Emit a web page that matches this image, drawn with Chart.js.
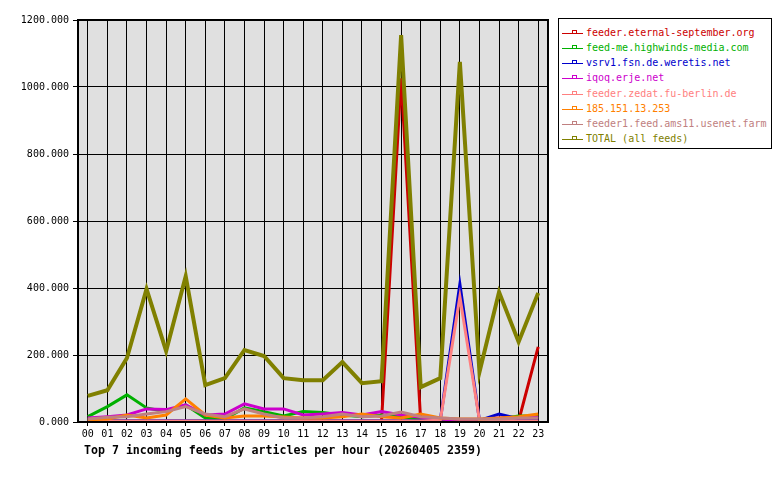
<!DOCTYPE html>
<html>
<head>
<meta charset="utf-8">
<script src="https://cdn.jsdelivr.net/npm/chart.js@4.4.1/dist/chart.umd.min.js"></script>
<style>
    body { margin: 0; background: #fff; }
    #wrap { position: relative; width: 780px; height: 480px; }
    #chart { position: absolute; left: 0; top: 0; }
    #title {
        position: absolute; left: 84px; top: 443px;
        font: bold 11.6px "DejaVu Sans Mono", monospace; color: #000; white-space: nowrap;
    }
    #legend {
        position: absolute; left: 558px; top: 18px; width: 214px; height: 131px;
        border: 1px solid #000; background: #fff; box-sizing: border-box;
        font: 10px "DejaVu Sans Mono", monospace;
    }
    .item { position: absolute; left: 0; height: 14px; line-height: 14px; white-space: nowrap; }
    .swatch { position: absolute; left: 3px; top: 7px; width: 21px; height: 1px; }
    .mark { position: absolute; left: 10px; top: -3px; width: 3px; height: 2px; border: 1px solid; border-bottom: none; background: #fff; }
    .label { position: absolute; left: 27px; top: 0; }
</style>
</head>
<body>
<div id="wrap">
    <canvas id="chart" width="780" height="480"></canvas>
    <div id="legend"></div>
    <div id="title">Top 7 incoming feeds by articles per hour (20260405 2359)</div>
</div>
<script>
const hours = ['00','01','02','03','04','05','06','07','08','09','10','11',
               '12','13','14','15','16','17','18','19','20','21','22','23'];

const feedNames = [
    'feeder.eternal-september.org',
    'feed-me.highwinds-media.com',
    'vsrv1.fsn.de.weretis.net',
    'iqoq.erje.net',
    'feeder.zedat.fu-berlin.de',
    '185.151.13.253',
    'feeder1.feed.ams11.usenet.farm',
    'TOTAL (all feeds)'
];
const feedColors = ['#cc0000', '#00b000', '#0000cc', '#cc00cc', '#ff8080', '#ff8000', '#c08080', '#808000'];

// articles per hour
const eternalSeptember = [2, 2, 2, 2, 2, 2, 2, 2, 2, 2, 2, 2, 2, 2, 2, 3, 1026, 2, 2, 2, 2, 2, 3, 224];
const highwinds = [16, 46, 81, 42, 31, 51, 12, 9, 42, 31, 18, 31, 28, 21, 16, 21, 15, 9, 7, 7, 7, 9, 18, 18];
const weretis = [4, 4, 4, 4, 4, 4, 4, 4, 4, 4, 4, 4, 4, 4, 4, 4, 4, 4, 5, 412, 5, 24, 10, 10];
const erje = [12, 16, 21, 39, 37, 51, 21, 24, 54, 39, 39, 21, 24, 28, 21, 31, 21, 14, 9, 4, 7, 12, 12, 14];
const zedat = [3, 3, 3, 3, 3, 3, 3, 3, 3, 3, 3, 3, 3, 3, 3, 3, 3, 3, 5, 374, 5, 3, 3, 3];
const ip185 = [7, 9, 21, 12, 21, 69, 21, 12, 18, 18, 15, 12, 12, 16, 24, 16, 12, 24, 12, 9, 9, 12, 16, 24];
const ams11 = [9, 14, 16, 24, 31, 46, 24, 16, 39, 24, 12, 12, 16, 24, 16, 18, 30, 16, 12, 9, 9, 9, 12, 12];
const total = [78, 95, 191, 397, 212, 435, 110, 131, 215, 197, 131, 125, 125, 179, 116, 122, 1155, 104, 131, 1075, 149, 388, 239, 385];

const feedData = [eternalSeptember, highwinds, weretis, erje, zedat, ip185, ams11, total];

// grey plot background + black frame
const plotFrame = {
    id: 'plotFrame',
    beforeDraw(chart) {
        const { ctx, chartArea: a } = chart;
        ctx.save();
        ctx.fillStyle = '#e0e0e0';
        ctx.fillRect(a.left, a.top, a.right - a.left, a.bottom - a.top);
        ctx.restore();
    },
    afterDraw(chart) {
        const { ctx, chartArea: a } = chart;
        ctx.save();
        ctx.strokeStyle = '#000';
        ctx.lineWidth = 2;
        ctx.strokeRect(a.left, a.top, a.right - a.left, a.bottom - a.top);
        ctx.restore();
    }
};

const datasets = feedNames.map((name, i) => ({
    label: name,
    data: feedData[i],
    borderColor: feedColors[i],
    backgroundColor: feedColors[i],
    borderWidth: i === 7 ? 4 : 3,
    pointRadius: 0,
    tension: 0,
    fill: false,
    order: 7 - i // later feeds drawn on top, like the original
}));

const tickFont = { family: 'DejaVu Sans Mono', size: 10 };

new Chart(document.getElementById('chart'), {
    type: 'line',
    data: { labels: hours, datasets: datasets },
    plugins: [plotFrame],
    options: {
        responsive: false,
        animation: false,
        layout: { padding: { top: 20, right: 232, left: 0, bottom: 0 } },
        plugins: { legend: { display: false }, tooltip: { enabled: false } },
        scales: {
            x: {
                offset: true,
                grid: { offset: false, color: '#000', lineWidth: 1, tickLength: 4, tickColor: '#000' },
                border: { display: false },
                ticks: { color: '#000', font: tickFont, padding: 2, maxRotation: 0, autoSkip: false },
                afterFit: (scale) => { scale.height = 58; }
            },
            y: {
                min: 0,
                max: 1200,
                grid: { color: '#000', lineWidth: 1, tickLength: 5, tickColor: '#000' },
                border: { display: false },
                ticks: {
                    stepSize: 200,
                    color: '#000',
                    font: tickFont,
                    padding: 4,
                    callback: (v) => Number(v).toFixed(3)
                },
                afterFit: (scale) => { scale.width = 78; }
            }
        }
    }
});

// legend box on the right
const legend = document.getElementById('legend');
feedNames.forEach((name, i) => {
    const row = document.createElement('div');
    row.className = 'item';
    row.style.top = (7 + i * 15.15) + 'px';
    row.innerHTML =
        '<div class="swatch" style="background:' + feedColors[i] + '">' +
        '<div class="mark" style="border-color:' + feedColors[i] + '"></div></div>' +
        '<span class="label" style="color:' + feedColors[i] + '">' + name + '</span>';
    legend.appendChild(row);
});
</script>
</body>
</html>
